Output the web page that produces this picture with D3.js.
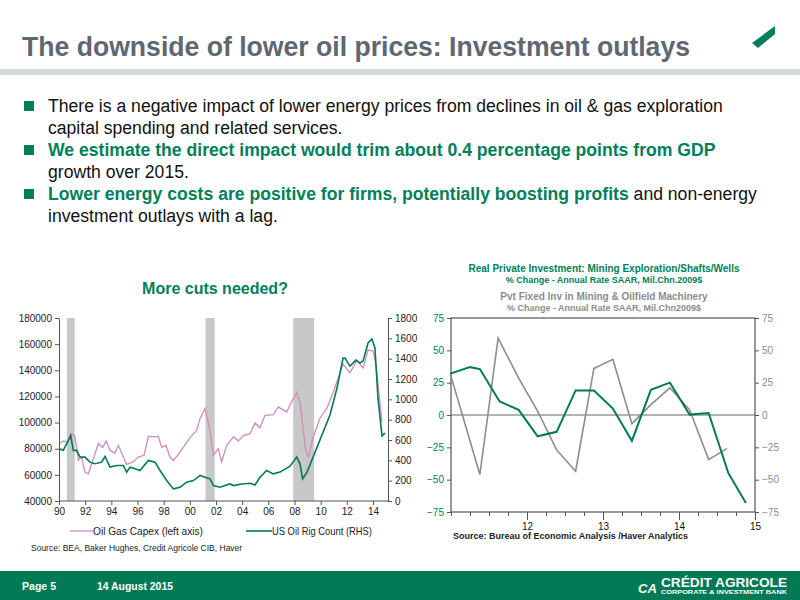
<!DOCTYPE html>
<html><head><meta charset="utf-8">
<script src="https://cdn.jsdelivr.net/npm/d3@7"></script>
<style>body{margin:0;background:#fff;font-family:"Liberation Sans",Arial,sans-serif}</style>
</head><body><div id="slide"></div>
<script>
// left chart data: years after 1990, value
var capexOffsets = [0,.33,.71,1.02,1.22,1.48,1.73,1.99,2.24,2.5,3.01,3.34,3.6,3.9,4.28,4.54,4.92,5.17,5.68,6.06,6.5,6.83,7.34,7.59,7.85,8.18,8.48,8.74,9.12,9.5,10.01,10.52,10.78,11.16,11.54,11.8,12.18,12.43,12.82,13.33,13.71,14.09,14.6,14.98,15.36,15.75,16.38,16.76,17.4,17.78,18.17,18.42,18.62,18.85,19.06,19.41,19.95,20.48,20.94,21.71,22.24,22.78,23.24,23.62,24.0,24.23,24.69];
var capexValues = [83800,86000,85000,91500,89000,71000,73500,62000,60800,68500,84000,81000,86000,78700,76700,82600,73600,68000,70000,73600,75000,89500,89000,89500,81000,82600,73600,71000,75600,81000,88500,94000,103000,110800,94000,75000,80000,70000,82600,89000,86000,90000,91500,99700,96000,105600,106000,112000,108000,116000,123000,116000,99000,78700,73600,88200,103500,111000,122600,144800,138000,147800,141700,155500,154800,144000,100400];
var rigOffsets = [0,.33,.71,.89,1.1,1.35,1.61,1.99,2.37,2.75,3.26,3.52,3.9,4.41,4.92,5.17,5.43,5.81,6.19,6.83,7.34,7.72,8.23,8.74,9.25,9.75,10.27,10.78,11.16,11.54,11.8,12.31,12.69,13.07,13.33,13.96,14.6,14.98,15.36,15.87,16.38,16.89,17.66,18.17,18.42,18.62,18.96,20.71,21.25,21.71,21.86,22.24,22.7,23.0,23.24,23.62,23.92,24.15,24.38,24.69,24.92];
var rigValues = [514,498,597,646,498,498,432,432,382,366,382,438,333,349,349,284,333,317,300,399,382,300,201,119,135,185,201,251,234,218,152,135,152,168,152,168,175,158,234,300,267,284,343,432,366,218,285,846,1111,1406,1406,1327,1386,1357,1376,1554,1593,1504,1013,639,669];
var recessions = [[1990.6,1991.2],[2001.2,2001.9],[2007.9,2009.5]];
var leftTicks = ["90","92","94","96","98","00","02","04","06","08","10","12","14"];

// right chart data (quarter position in years, % change)
var miningDates = [2010.99,2011.25,2011.38,2011.64,2011.89,2012.14,2012.39,2012.64,2012.88,2013.13,2013.38,2013.63,2013.88,2014.14,2014.39,2014.65,2014.88];
var miningValues = [32,37,35.5,10.5,4,-16.5,-13,19,19,5,-20,19.5,25,0.3,1.5,-45,-68];
var machDates = [2010.99,2011.38,2011.62,2011.89,2012.14,2012.39,2012.64,2012.88,2013.13,2013.38,2013.63,2013.88,2014.14,2014.39,2014.63];
var machValues = [32,-46,59.5,28.5,3,-27,-43.5,36,43,-6.7,8,21,4,-34.5,-26];
var rightYearLabels = [2012,2013,2014,2015];

var green = "#00805a", gray = "#8c8c8c", dark = "#5f6770";

var svg = d3.select("#slide").append("svg").attr("width", 800).attr("height", 600);

// header
svg.append("text").attr("x", 22).attr("y", 56).attr("font-size", 27).attr("font-weight", "bold")
    .attr("textLength", 668).attr("lengthAdjust", "spacingAndGlyphs")
    .attr("fill", dark).text("The downside of lower oil prices: Investment outlays");
svg.append("path").attr("d", "M752,43 L775,26 L775,34 L758,48 Z").attr("fill", green);
svg.append("rect").attr("x", 0).attr("y", 69).attr("width", 800).attr("height", 6).attr("fill", "#d5d9db");

// bullets
var bullets = [
    [[{ t: "There is a negative impact of lower energy prices from declines in oil & gas exploration", g: false }],
     [{ t: "capital spending and related services.", g: false }]],
    [[{ t: "We estimate the direct impact would trim about 0.4 percentage points from GDP", g: true }],
     [{ t: "growth over 2015.", g: false }]],
    [[{ t: "Lower energy costs are positive for firms, potentially boosting profits", g: true }, { t: " and non-energy", g: false }],
     [{ t: "investment outlays with a lag.", g: false }]]
];
var by = 112;
bullets.forEach(function (b) {
    svg.append("rect").attr("x", 24).attr("y", by - 11).attr("width", 10).attr("height", 10).attr("fill", green);
    b.forEach(function (line, li) {
        var t = svg.append("text").attr("x", 48).attr("y", by + li * 22).attr("font-size", 17.6).attr("fill", "#111");
        line.forEach(function (s) {
            t.append("tspan").text(s.t).attr("fill", s.g ? green : "#111").attr("font-weight", s.g ? "bold" : "normal");
        });
    });
    by += 44;
});

// left chart
var L = { x0: 59, x1: 388, y0: 318, y1: 501 };
var lx = d3.scaleLinear().domain([1990, 2014]).range([L.x0, 373]);
var ly = d3.scaleLinear().domain([40000, 180000]).range([L.y1, L.y0]);
var ry = d3.scaleLinear().domain([0, 1800]).range([L.y1, L.y0]);

svg.append("text").attr("x", 215).attr("y", 294).attr("text-anchor", "middle").attr("font-size", 16)
    .attr("font-weight", "bold").attr("fill", green).text("More cuts needed?");

var lg = svg.append("g");
recessions.forEach(function (r) {
    lg.append("rect").attr("x", lx(r[0])).attr("y", L.y0).attr("width", lx(r[1]) - lx(r[0]))
        .attr("height", L.y1 - L.y0).attr("fill", "#c8c8c8");
});
var capexLine = d3.line().x(function (d, i) { return lx(1990 + capexOffsets[i]); }).y(function (d) { return ly(d); });
var rigLine = d3.line().x(function (d, i) { return lx(1990 + rigOffsets[i]); }).y(function (d) { return ry(d); });
lg.append("path").attr("d", capexLine(capexValues)).attr("fill", "none").attr("stroke", "#d08cc0").attr("stroke-width", 1.3);
lg.append("path").attr("d", rigLine(rigValues)).attr("fill", "none").attr("stroke", "#007a55").attr("stroke-width", 1.6);

var ax = svg.append("g").attr("font-size", 10);
ax.append("g").attr("transform", "translate(0," + L.y1 + ")")
    .call(d3.axisBottom(lx).tickValues(d3.range(1990, 2015, 2)).tickFormat(function (d, i) { return leftTicks[i]; }).tickSizeOuter(0).tickSize(4))
    .call(function (g) { g.select(".domain").attr("d", "M" + L.x0 + ",0H" + L.x1); });
ax.append("g").attr("transform", "translate(" + L.x0 + ",0)")
    .call(d3.axisLeft(ly).tickValues(d3.range(40000, 180001, 20000)).tickFormat(d3.format("d")).tickSize(4).tickSizeOuter(0));
ax.append("g").attr("transform", "translate(" + L.x1 + ",0)")
    .call(d3.axisRight(ry).tickValues(d3.range(0, 1801, 200)).tickFormat(d3.format("d")).tickSize(4).tickSizeOuter(0));
ax.selectAll("text").attr("fill", "#222").attr("font-family", "Liberation Sans, Arial");
ax.selectAll("path,line").attr("stroke", "#555");

var leg = svg.append("g").attr("font-size", 10.5).attr("fill", "#222");
leg.append("line").attr("x1", 70).attr("x2", 93).attr("y1", 531).attr("y2", 531).attr("stroke", "#d08cc0").attr("stroke-width", 1.3);
leg.append("text").attr("x", 93).attr("y", 535).attr("textLength", 110).attr("lengthAdjust", "spacingAndGlyphs").text("Oil Gas Capex (left axis)");
leg.append("line").attr("x1", 246).attr("x2", 272).attr("y1", 531).attr("y2", 531).attr("stroke", "#007a55").attr("stroke-width", 1.6);
leg.append("text").attr("x", 272).attr("y", 535).attr("textLength", 100).attr("lengthAdjust", "spacingAndGlyphs").text("US Oil Rig Count (RHS)");
svg.append("text").attr("x", 31).attr("y", 551).attr("font-size", 8.5).attr("fill", "#222").text("Source:  BEA, Baker Hughes, Credit Agricole CIB, Haver");

// right chart
var R = { x0: 451, x1: 755, y0: 318, y1: 512 };
var qx = d3.scaleLinear().domain([2011, 2015]).range([R.x0, R.x1]);
var qy = d3.scaleLinear().domain([-75, 75]).range([R.y1, R.y0]);

var rt = svg.append("g").attr("text-anchor", "middle").attr("font-weight", "bold");
rt.append("text").attr("x", 604).attr("y", 272).attr("font-size", 10).attr("fill", green).text("Real Private Investment: Mining Exploration/Shafts/Wells");
rt.append("text").attr("x", 604).attr("y", 283).attr("font-size", 9).attr("fill", green).text("% Change - Annual Rate    SAAR, Mil.Chn.2009$");
rt.append("text").attr("x", 604).attr("y", 300).attr("font-size", 10).attr("fill", gray).text("Pvt Fixed Inv in Mining & Oilfield Machinery");
rt.append("text").attr("x", 604).attr("y", 311).attr("font-size", 9).attr("fill", gray).text("% Change - Annual Rate    SAAR, Mil.Chn2009$");

svg.append("rect").attr("x", R.x0).attr("y", R.y0).attr("width", R.x1 - R.x0).attr("height", R.y1 - R.y0)
    .attr("fill", "none").attr("stroke", "#333").attr("stroke-width", 1);
svg.append("line").attr("x1", R.x0).attr("x2", R.x1).attr("y1", qy(0)).attr("y2", qy(0)).attr("stroke", "#666");

var qa = svg.append("g").attr("font-size", 10);
qa.append("g").attr("transform", "translate(" + R.x0 + ",0)")
    .call(d3.axisLeft(qy).tickValues(d3.range(-75, 76, 25)).tickSize(4).tickSizeOuter(0))
    .call(function (g) { g.selectAll("text").attr("fill", green); });
qa.append("g").attr("transform", "translate(" + R.x1 + ",0)")
    .call(d3.axisRight(qy).tickValues(d3.range(-75, 76, 25)).tickSize(4).tickSizeOuter(0))
    .call(function (g) { g.selectAll("text").attr("fill", gray); });
qa.append("g").attr("transform", "translate(0," + R.y1 + ")")
    .call(d3.axisBottom(qx).tickValues(d3.range(2011, 2015.01, 0.25)).tickFormat("").tickSize(4).tickSizeOuter(0));
qa.append("g").attr("transform", "translate(0," + R.y1 + ")")
    .call(d3.axisBottom(qx).tickValues(rightYearLabels).tickFormat(function (d) { return String(d).slice(2); }).tickSize(8).tickSizeOuter(0))
    .call(function (g) { g.selectAll("text").attr("fill", "#111"); });
qa.selectAll(".domain").remove();
qa.selectAll("line").attr("stroke", "#555");

var mLine = d3.line().x(function (d, i) { return qx(miningDates[i]); }).y(function (d) { return qy(d); });
var gLine = d3.line().x(function (d, i) { return qx(machDates[i]); }).y(function (d) { return qy(d); });
svg.append("path").attr("d", gLine(machValues)).attr("fill", "none").attr("stroke", gray).attr("stroke-width", 1.6);
svg.append("path").attr("d", mLine(miningValues)).attr("fill", "none").attr("stroke", "#007a55").attr("stroke-width", 2);
svg.append("text").attr("x", 453).attr("y", 539).attr("font-size", 9).attr("font-weight", "bold").attr("fill", "#222")
    .text("Source:  Bureau of Economic Analysis /Haver Analytics");

// footer
svg.append("rect").attr("x", 0).attr("y", 571).attr("width", 800).attr("height", 29).attr("fill", "#007a55");
var ft = svg.append("g").attr("font-weight", "bold").attr("fill", "#fff");
ft.append("text").attr("x", 22).attr("y", 590).attr("font-size", 10.5).attr("textLength", 34).attr("lengthAdjust", "spacingAndGlyphs").text("Page 5");
ft.append("text").attr("x", 97).attr("y", 590).attr("font-size", 10.5).attr("textLength", 76).attr("lengthAdjust", "spacingAndGlyphs").text("14 August 2015");
ft.append("text").attr("x", 661).attr("y", 587).attr("font-size", 13).attr("textLength", 126).attr("lengthAdjust", "spacingAndGlyphs").text("CRÉDIT AGRICOLE");
ft.append("text").attr("x", 661).attr("y", 594).attr("font-size", 5).attr("textLength", 126).attr("lengthAdjust", "spacingAndGlyphs").text("CORPORATE & INVESTMENT BANK");
ft.append("text").attr("x", 638).attr("y", 593).attr("font-size", 13).attr("font-style", "italic").text("CA");
</script></body></html>
